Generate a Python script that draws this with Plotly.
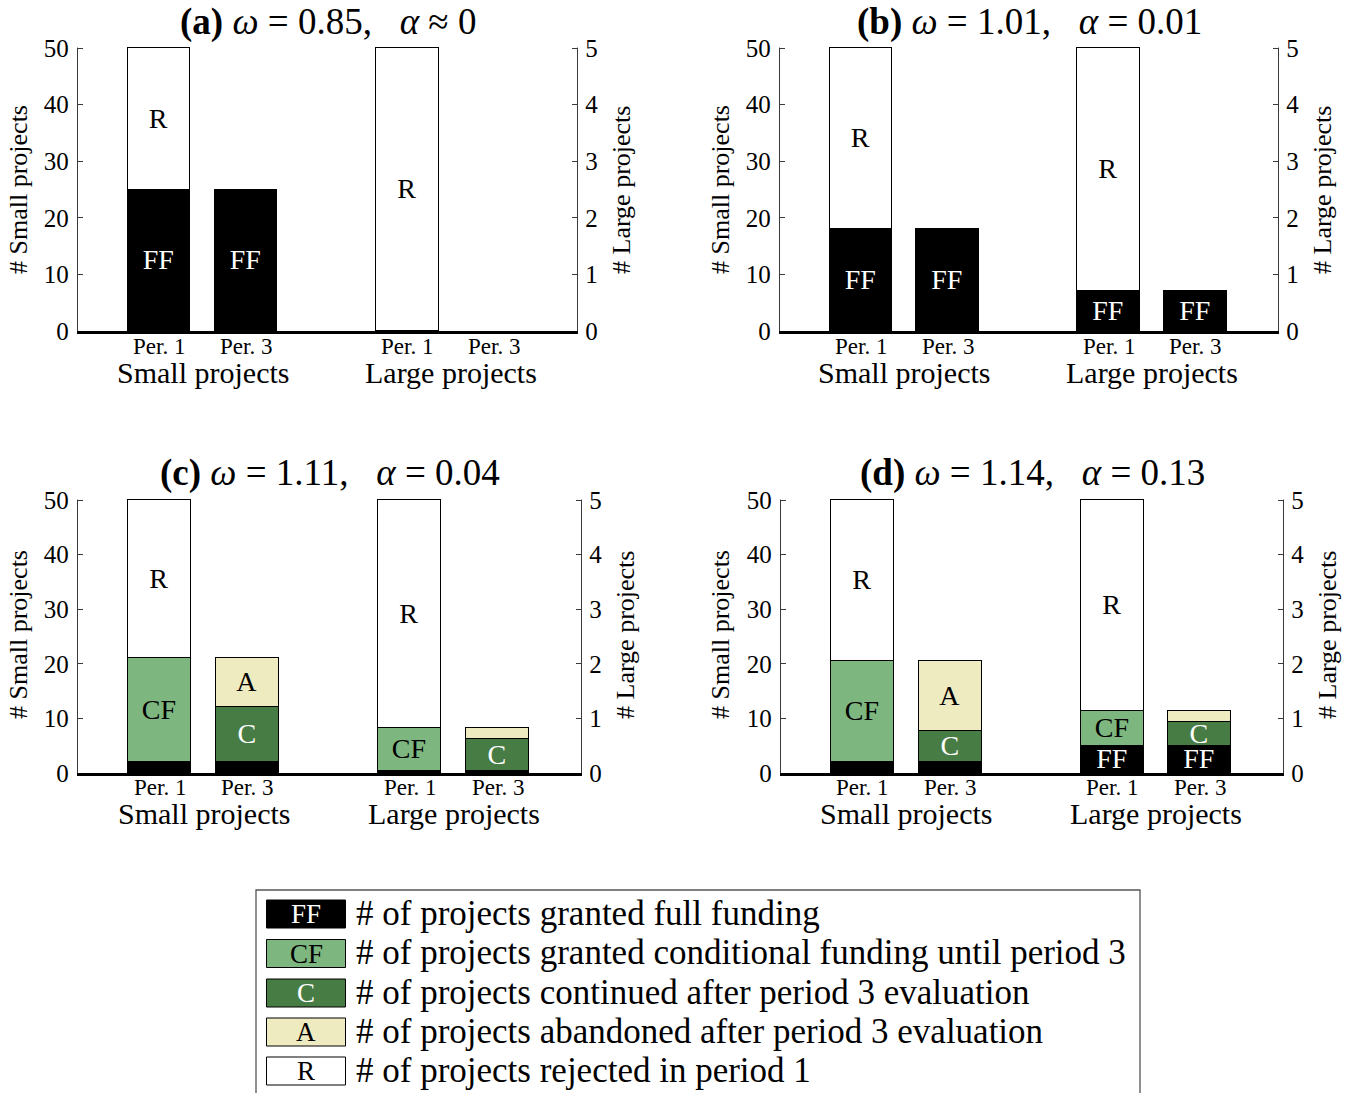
import plotly.graph_objects as go

# ---------------- data ----------------
panel_titles = [
    "<b>(a)</b> <i>ω</i> = 0.85,   <i>α</i> ≈ 0",
    "<b>(b)</b> <i>ω</i> = 1.01,   <i>α</i> = 0.01",
    "<b>(c)</b> <i>ω</i> = 1.11,   <i>α</i> = 0.04",
    "<b>(d)</b> <i>ω</i> = 1.14,   <i>α</i> = 0.13",
]
period_labels = ["Per. 1", "Per. 3"]
group_labels = ["Small projects", "Large projects"]

# small projects (left axis, 0-50): [Per. 1, Per. 3]
small_ff = [[25, 25], [18, 18], [2, 2], [2, 2]]
small_cf = [0, 0, 19, 18.5]      # Per. 1 only
small_c = [0, 0, 10, 5.7]        # Per. 3 only
small_a = [0, 0, 9, 12.8]        # Per. 3 only
small_r = [25, 32, 29, 29.5]     # Per. 1 only

# large projects (right axis, 0-5): [Per. 1, Per. 3]
large_ff = [[0, 0], [0.7, 0.7], [0.03, 0.03], [0.5, 0.5]]
large_cf = [0, 0, 0.8, 0.64]
large_c = [0, 0, 0.6, 0.43]
large_a = [0, 0, 0.2, 0.21]
large_r = [5, 4.3, 4.17, 3.86]

legend_keys = ["FF", "CF", "C", "A", "R"]
legend_texts = [
    "# of projects granted full funding",
    "# of projects granted conditional funding until period 3",
    "# of projects continued after period 3 evaluation",
    "# of projects abandoned after period 3 evaluation",
    "# of projects rejected in period 1",
]

# ---------------- style ----------------
W, H = 1354, 1093
FONT = "Liberation Serif"
colors = {"FF": "#000000", "CF": "#7db67f", "C": "#487c45", "A": "#efebc1", "R": "#ffffff"}
text_colors = {"FF": "white", "CF": "black", "C": "white", "A": "black", "R": "black"}
AXIS_GREY = "#3a3a3a"

# panel boxes in pixels: (left, right, top, bottom)
boxes = [(78, 577, 48, 331), (780, 1278, 48, 331), (78, 581, 500, 773), (781, 1283, 500, 773)]
title_y = [22, 22, 473, 473]
ltitle_x = [18, 720, 18, 720]
rtitle_x = [621, 1322, 625, 1327]
ytitle_y = [190, 190, 635, 635]
per_y = [346, 346, 787, 787]
group_y = [373, 373, 813, 813]

small_pos = [1, 2]
large_pos = [3.85, 4.85]
bar_w = 0.72
SMALL_MAX, LARGE_MAX = 50, 5
EXTRA_PX = 2  # headroom so the bar outlines at the top stay visible


def fx(p):
    return p / W


def fy(p):
    return 1 - p / H


def nz(v):
    return [None if (x is None or x == 0) else x for x in v]


def labels(vals, key, full):
    return [key if (v and v / full >= 0.07) else "" for v in vals]


fig = go.Figure()
layout = {}
annotations = []
shapes = []

for i in range(4):
    l, r, t, b = boxes[i]
    h = b - t
    grow = (h + EXTRA_PX) / h
    xa = "x" if i == 0 else f"x{i+1}"
    yl_n = 2 * i + 1
    yr_n = 2 * i + 2
    yl = "y" if yl_n == 1 else f"y{yl_n}"
    yr = f"y{yr_n}"
    xkey = "xaxis" if i == 0 else f"xaxis{i+1}"
    ylkey = "yaxis" if yl_n == 1 else f"yaxis{yl_n}"
    yrkey = f"yaxis{yr_n}"

    layout[xkey] = dict(
        domain=[fx(l), fx(r)], anchor=yl, range=[0.07, 5.8],
        showticklabels=False, automargin=False,
        showline=True, linewidth=3, linecolor="black", ticks="",
        showgrid=False, zeroline=False, fixedrange=True,
    )
    layout[ylkey] = dict(
        domain=[fy(b), fy(t - EXTRA_PX)], anchor=xa, range=[0, SMALL_MAX * grow],
        tickvals=[0, 10, 20, 30, 40, 50], automargin=False,
        showline=True, linewidth=1.3, linecolor=AXIS_GREY, ticks="inside", ticklen=5,
        tickcolor=AXIS_GREY, showgrid=False, zeroline=False, ticklabelstandoff=3,
        tickfont=dict(family=FONT, size=25, color="black"),
    )
    layout[yrkey] = dict(
        domain=[fy(b), fy(t - EXTRA_PX)], anchor=xa, overlaying=yl, side="right",
        range=[0, LARGE_MAX * grow], tickvals=[0, 1, 2, 3, 4, 5], automargin=False,
        showline=True, linewidth=1.3, linecolor=AXIS_GREY, ticks="inside", ticklen=5,
        tickcolor=AXIS_GREY, showgrid=False, zeroline=False, ticklabelstandoff=2,
        tickfont=dict(family=FONT, size=25, color="black"),
    )
    # axis lines should stop at the top tick, cover the headroom strip
    for xs in (l - 3, r - 3):
        shapes.append(dict(
            type="rect", xref="paper", yref="paper",
            x0=fx(xs), x1=fx(xs + 6), y0=fy(t - 0.4), y1=fy(t - EXTRA_PX - 1),
            line=dict(width=0), fillcolor="white", layer="above",
        ))

    # small project stacks
    small_series = [
        ("FF", small_ff[i]),
        ("CF", [small_cf[i], 0]),
        ("C", [0, small_c[i]]),
        ("A", [0, small_a[i]]),
        ("R", [small_r[i], 0]),
    ]
    for key, vals in small_series:
        fig.add_trace(go.Bar(
            x=small_pos, y=nz(vals), xaxis=xa, yaxis=yl, width=bar_w,
            marker=dict(color=colors[key], line=dict(color="black", width=1.3)),
            text=labels(vals, key, SMALL_MAX), textposition="inside", insidetextanchor="middle",
            textangle=0, textfont=dict(family=FONT, size=28, color=text_colors[key]),
            showlegend=False, hoverinfo="skip",
        ))
    large_series = [
        ("FF", large_ff[i]),
        ("CF", [large_cf[i], 0]),
        ("C", [0, large_c[i]]),
        ("A", [0, large_a[i]]),
        ("R", [large_r[i], 0]),
    ]
    for key, vals in large_series:
        fig.add_trace(go.Bar(
            x=large_pos, y=nz(vals), xaxis=xa, yaxis=yr, width=bar_w,
            marker=dict(color=colors[key], line=dict(color="black", width=1.3)),
            text=labels(vals, key, LARGE_MAX), textposition="inside", insidetextanchor="middle",
            textangle=0, textfont=dict(family=FONT, size=28, color=text_colors[key]),
            showlegend=False, hoverinfo="skip",
        ))

    # titles and axis titles
    annotations.append(dict(
        text=panel_titles[i], x=fx((l + r) / 2), y=fy(title_y[i]), xref="paper", yref="paper",
        xanchor="center", yanchor="middle", showarrow=False,
        font=dict(family=FONT, size=37, color="black"),
    ))
    annotations.append(dict(
        text="# Small projects", x=fx(ltitle_x[i]), y=fy(ytitle_y[i]), xref="paper", yref="paper",
        xanchor="center", yanchor="middle", textangle=-90, showarrow=False,
        font=dict(family=FONT, size=26, color="black"),
    ))
    annotations.append(dict(
        text="# Large projects", x=fx(rtitle_x[i]), y=fy(ytitle_y[i]), xref="paper", yref="paper",
        xanchor="center", yanchor="middle", textangle=-90, showarrow=False,
        font=dict(family=FONT, size=26, color="black"),
    ))
    # period labels under each bar
    for px_, pl in zip(small_pos + large_pos, period_labels * 2):
        annotations.append(dict(
            text=pl, x=px_, xref=xa, y=fy(per_y[i]), yref="paper",
            xanchor="center", yanchor="middle", showarrow=False,
            font=dict(family=FONT, size=23, color="black"),
        ))
    for gx, gl in zip([sum(small_pos) / 2, sum(large_pos) / 2], group_labels):
        annotations.append(dict(
            text=gl, x=gx, xref=xa, y=fy(group_y[i]), yref="paper",
            xanchor="center", yanchor="middle", showarrow=False,
            font=dict(family=FONT, size=30, color="black"),
        ))

# ---------------- custom legend ----------------
shapes.append(dict(
    type="rect", xref="paper", yref="paper",
    x0=fx(256), x1=fx(1140), y0=fy(1110), y1=fy(890),
    line=dict(color="#555555", width=1.3), fillcolor="rgba(0,0,0,0)",
))
row_y = [914, 953.5, 993, 1032, 1071]
for key, txt, ry in zip(legend_keys, legend_texts, row_y):
    shapes.append(dict(
        type="rect", xref="paper", yref="paper",
        x0=fx(266.5), x1=fx(345.5), y0=fy(ry + 14), y1=fy(ry - 14),
        line=dict(color="black", width=1), fillcolor=colors[key],
    ))
    annotations.append(dict(
        text=key, x=fx(306), y=fy(ry), xref="paper", yref="paper",
        xanchor="center", yanchor="middle", showarrow=False,
        font=dict(family=FONT, size=27, color=text_colors[key]),
    ))
    annotations.append(dict(
        text=txt, x=fx(354), y=fy(ry - 1), xref="paper", yref="paper",
        xanchor="left", yanchor="middle", showarrow=False,
        font=dict(family=FONT, size=35, color="black"),
    ))

fig.update_layout(
    template="none",
    width=W, height=H, autosize=False,
    margin=dict(l=0, r=0, t=0, b=0, pad=0),
    paper_bgcolor="white", plot_bgcolor="white",
    barmode="stack", bargap=0,
    uniformtext=dict(minsize=28, mode="show"),
    annotations=annotations, shapes=shapes,
    font=dict(family=FONT, color="black"),
    **layout,
)

fig.write_html("out.html")
